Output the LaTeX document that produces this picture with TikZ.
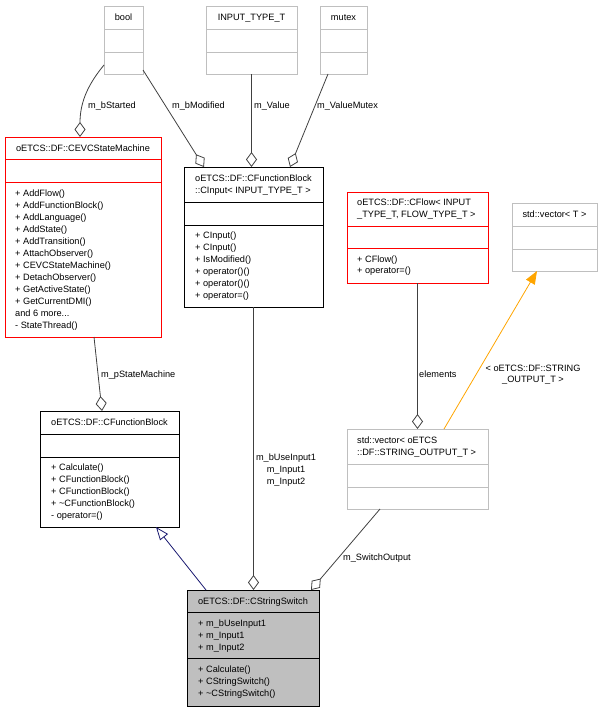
\documentclass[tikz,border=0pt]{standalone}
\usepackage{fontspec}
\setmainfont{Liberation Sans}
\usetikzlibrary{arrows.meta,calc}
\definecolor{boxgray}{HTML}{BFBFBF}
\definecolor{edgegray}{HTML}{404040}
\definecolor{dxorange}{HTML}{FFA500}
\definecolor{dxblue}{HTML}{191970}
\definecolor{dxred}{HTML}{FF0000}
\newcommand\mydots{...}
\tikzset{
  umlbox/.style={draw, line width=0.9pt, inner sep=0pt, outer sep=0pt, anchor=north west},
  graybox/.style={draw=boxgray},
  redbox/.style={draw=dxred},
  blackbox/.style={draw=black},
  txt/.style={font=\fontsize{9.2}{12}\selectfont, inner sep=0pt, anchor=base west},
  ctxt/.style={font=\fontsize{9.2}{12}\selectfont, inner sep=0pt, anchor=base},
  conn/.style={draw=edgegray, line width=0.8pt},
  agg/.style={conn, -{Diamond[open, length=15pt, width=11pt]}},
  inherit/.style={draw=dxblue, line width=0.8pt, -{Triangle[open, length=13pt, width=10pt]}},
  templ/.style={draw=dxorange, line width=0.8pt, -{Triangle[length=13pt, width=10pt, fill=dxorange]}},
}
% name, x1, y1, x2, y2, sep1, sep2, style
\newcommand\umlb[8]{%
  \node[umlbox,#8, minimum width={(#4-#2)*1pt}, minimum height={(#5-#3)*1pt}] (#1) at (#2,#3) {};
  \draw[#8, line width=0.9pt] (#2,#6) -- (#4,#6);
  \draw[#8, line width=0.9pt] (#2,#7) -- (#4,#7);
}
% name, x, y0, dy, list
\newcommand\rows[5]{%
  \foreach \t [count=\i from 0] in {#5} {\node[txt] (#1-\i) at (#2, #3+#4*\i+3.3) {\t};}
}
\begin{document}
\begin{tikzpicture}[x=1pt, y=-1pt]
\useasboundingbox (0,0) rectangle (603,712);

% top boxes
\umlb{bool}{104}{6}{143}{74}{29}{52}{graybox}
\node[ctxt] (boolT) at (123.5,17+3.3) {bool};
\umlb{inputtype}{206}{6}{297}{74}{29}{52}{graybox}
\node[ctxt] (inputtypeT) at (251.5,17+3.3) {INPUT\_TYPE\_T};
\umlb{mutex}{320}{6}{367}{74}{29}{52}{graybox}
\node[ctxt] (mutexT) at (343.5,17+3.3) {mutex};

% CEVCStateMachine
\umlb{cevc}{5}{137}{161}{337}{159}{182}{redbox}
\node[ctxt] (cevcT) at (83,148+3.3) {oETCS::DF::CEVCStateMachine};
\rows{cevcm}{15}{193}{12}{+ AddFlow(),+ AddFunctionBlock(),+ AddLanguage(),+ AddState(),+ AddTransition(),+ AttachObserver(),+ CEVCStateMachine(),+ DetachObserver(),+ GetActiveState(),+ GetCurrentDMI(),{and 6 more\mydots},- StateThread()}

% CInput
\umlb{cinput}{184}{167}{323}{307}{202}{225}{blackbox}
\rows{cinputh}{195}{178.5}{12}{oETCS::DF::CFunctionBlock,::CInput< INPUT\_TYPE\_T >}
\rows{cinputm}{195}{235}{12}{+ CInput(),+ CInput(),+ IsModified(),+ operator()(),+ operator()(),+ operator=()}

% CFlow
\umlb{cflow}{347}{192}{488}{283}{226}{248}{redbox}
\rows{cflowh}{357}{202.5}{11.5}{oETCS::DF::CFlow< INPUT,{\_TYPE\_T, FLOW\_TYPE\_T >}}
\rows{cflowm}{357}{259}{11.5}{+ CFlow(),+ operator=()}

% std::vector<T>
\umlb{vect}{512}{203}{597}{271}{226}{249}{graybox}
\node[ctxt] (vectT) at (554.5,214+3.3) {std::vector< T >};

% CFunctionBlock
\umlb{cfb}{40}{411}{179}{527}{434}{457}{blackbox}
\node[ctxt] (cfbT) at (109.5,422.5+3.3) {oETCS::DF::CFunctionBlock};
\rows{cfbm}{51}{467}{12}{+ Calculate(),+ CFunctionBlock(),+ CFunctionBlock(),+ \textasciitilde CFunctionBlock(),- operator=()}

% std::vector<oETCS::DF::STRING_OUTPUT_T>
\umlb{vecout}{347}{429}{488}{509}{464}{487}{graybox}
\rows{vecouth}{357}{440.5}{12}{std::vector< oETCS,::DF::STRING\_OUTPUT\_T >}

% CStringSwitch
\node[umlbox, draw=black, fill=boxgray, minimum width=132pt, minimum height=116pt] (css) at (187,590) {};
\draw[black, line width=0.9pt] (187,612) -- (319,612);
\draw[black, line width=0.9pt] (187,658) -- (319,658);
\node[ctxt] (cssT) at (253,601+3.3) {oETCS::DF::CStringSwitch};
\rows{cssa}{198}{623}{12}{+ m\_bUseInput1,+ m\_Input1,+ m\_Input2}
\rows{cssm}{198}{669}{12}{+ Calculate(),+ CStringSwitch(),+ \textasciitilde CStringSwitch()}

% connectors
\draw[agg] ([yshift=9pt]bool.south west) .. controls (90,82) and (80,100) .. ([xshift=75pt]cevc.north west);
\node[txt] (lbStarted) at (88,105+3.3) {m\_bStarted};
\draw[agg] ([yshift=4pt]bool.south east) -- ([xshift=20pt]cinput.north west);
\node[txt] (lbModified) at (172,105+3.3) {m\_bModified};
\draw[agg] (inputtype.south) -- (inputtype.south |- cinput.north);
\node[txt] (lValue) at (254,105+3.3) {m\_Value};
\draw[agg] ([xshift=8pt]mutex.south west) -- ([xshift=106pt]cinput.north west);
\node[txt] (lValueMutex) at (317,105+3.3) {m\_ValueMutex};

\draw[agg] ([xshift=89pt]cevc.south west) -- ([xshift=62pt]cfb.north west);
\node[txt] (lpSM) at (101,374+3.3) {m\_pStateMachine};

\draw[agg] (cflow.south) -- (cflow.south |- vecout.north);
\node[txt] (lelements) at (419,374+3.3) {elements};

\draw[templ] ([xshift=97pt]vecout.north west) -- ([xshift=25pt]vect.south west);
\node[ctxt] (ltempl1) at (533,368+3.3) {< oETCS::DF::STRING};
\node[ctxt] (ltempl2) at (533,379.5+3.3) {\_OUTPUT\_T >};

\draw[inherit] ([xshift=19pt]css.north west) -- ([xshift=116pt]cfb.south west);

\draw[agg] (cinput.south) -- (cinput.south |- css.north);
\node[ctxt] (lin1) at (286,457+3.3) {m\_bUseInput1};
\node[ctxt] (lin2) at (286,469+3.3) {m\_Input1};
\node[ctxt] (lin3) at (286,481+3.3) {m\_Input2};

\draw[agg] ([xshift=33pt]vecout.south west) -- ([xshift=124pt]css.north west);
\node[txt] (lswitch) at (343,557+3.3) {m\_SwitchOutput};
\end{tikzpicture}
\end{document}
